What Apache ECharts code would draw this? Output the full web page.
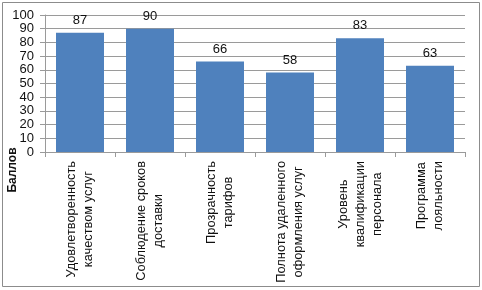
<!DOCTYPE html>
<html>
<head>
<meta charset="utf-8">
<script src="https://cdn.jsdelivr.net/npm/echarts@6/dist/echarts.min.js"></script>
<style>
  html, body { margin: 0; padding: 0; background: #fff; }
  #main { width: 482px; height: 290px; }
</style>
</head>
<body>
<div id="main"></div>
<script>
  // категории (с переносами строк как на картинке)
  var categories = [
    'Удовлетворенность\nкачеством услуг',
    'Соблюдение сроков\nдоставки',
    'Прозрачность\nтарифов',
    'Полнота удаленного\nоформления услуг',
    'Уровень\nквалификации\nперсонала',
    'Программа\nлояльности'
  ];
  var scores = [87, 90, 66, 58, 83, 63];
  var yTicks = [0, 10, 20, 30, 40, 50, 60, 70, 80, 90, 100];
  var yName = 'Баллов';

  var font = 'Liberation Sans, Arial, sans-serif';
  var gray = '#9a9a9a';

  var myChart = echarts.init(document.getElementById('main'));

  var option = {
    animation: false,
    backgroundColor: '#fff',
    grid: { left: 45, right: 17, top: 15, bottom: 138, containLabel: false },
    graphic: [
      {
        type: 'rect',
        shape: { x: 2.5, y: 2.5, width: 477, height: 284 },
        style: { fill: null, stroke: '#8c8c8c', lineWidth: 1 }
      },
      {
        type: 'text',
        x: 13, y: 170, rotation: Math.PI / 2,
        style: {
          text: yName, x: 0, y: 0, align: 'center', verticalAlign: 'middle',
          font: 'bold 12px ' + font, fill: '#111'
        }
      }
    ],
    xAxis: {
      type: 'category',
      data: categories,
      axisLine: { lineStyle: { color: gray } },
      axisTick: { show: true, length: 5, lineStyle: { color: gray } },
      axisLabel: {
        rotate: 90,
        margin: 9,
        interval: 0,
        color: '#111',
        fontFamily: font,
        fontSize: 12.8,
        lineHeight: 17,
        formatter: function (v) {
          return v.split('\n').map(function (s) { return '{c|' + s + '}'; }).join('\n');
        },
        rich: { c: { align: 'center', fontSize: 12.8, lineHeight: 17, fontFamily: font, color: '#111' } }
      }
    },
    yAxis: {
      type: 'value',
      min: yTicks[0],
      max: yTicks[yTicks.length - 1],
      interval: yTicks[1] - yTicks[0],
      axisLine: { show: true, lineStyle: { color: gray } },
      axisTick: { show: true, length: 5, lineStyle: { color: gray } },
      splitLine: { show: true, lineStyle: { color: gray, width: 1 } },
      axisLabel: { margin: 11, color: '#111', fontFamily: font, fontSize: 13 }
    },
    series: [{
      type: 'bar',
      data: scores,
      barWidth: 48,
      itemStyle: { color: '#4F81BD' },
      label: {
        show: true, position: 'top', distance: 6,
        color: '#111', fontFamily: font, fontSize: 13
      }
    }]
  };

  myChart.setOption(option);
</script>
</body>
</html>
